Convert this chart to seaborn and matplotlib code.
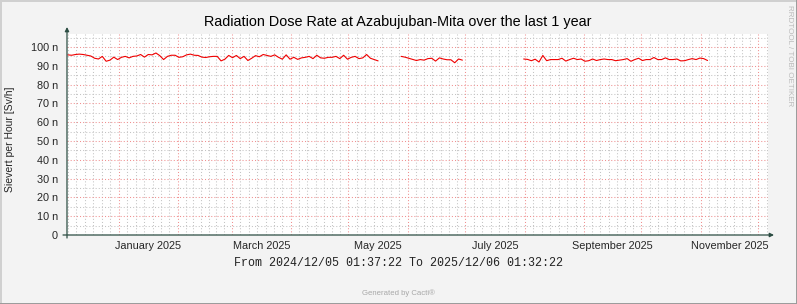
import matplotlib
matplotlib.use("Agg")
import matplotlib.pyplot as plt
from matplotlib.lines import Line2D
import seaborn as sns
import pandas as pd

# ---------------- data ----------------
title = "Radiation Dose Rate at Azabujuban-Mita over the last 1 year"
y_label = "Sievert per Hour [Sv/h]"
range_text = "From 2024/12/05 01:37:22 To 2025/12/06 01:32:22"
credit_text = "Generated by Cacti®"
side_text = "RRDTOOL / TOBI OETIKER"
x_start = "2024-12-05 01:37:22"
x_end = "2025-12-06 01:32:22"

seg_starts = ["2024-12-05", "2025-05-28", "2025-07-31"]
seg_step = "2D"
# values in nSv/h
seg1 = [95.8, 95.6, 96.0, 96.2, 96.0, 95.6, 95.2, 94.0, 93.6, 95.0, 92.4, 93.0, 94.6, 93.3, 94.5,
        95.0, 94.2, 95.0, 95.2, 96.0, 94.6, 96.0, 95.8, 96.8, 95.4, 93.3, 95.0, 95.6, 95.6,
        94.5, 94.8, 95.8, 96.2, 95.6, 95.5, 94.6, 94.4, 94.8, 95.0, 95.0, 92.6, 93.5, 95.5,
        94.3, 95.5, 93.8, 95.0, 92.8, 94.0, 95.4, 94.8, 96.0, 95.5, 95.0, 95.8, 94.5, 93.5,
        95.8, 93.5, 94.5, 93.4, 94.2, 94.5, 95.0, 93.8, 95.6, 94.2, 94.0, 94.5, 94.5, 95.0,
        93.8, 95.6, 93.5, 94.5, 95.0, 93.8, 94.2, 96.0, 94.0, 93.3, 92.6]
seg2 = [95.0, 94.6, 94.0, 93.4, 92.8, 93.3, 93.0, 93.8, 94.0, 92.5, 94.2, 93.6, 93.2, 93.2,
        91.6, 93.6, 93.0]
seg3 = [93.6, 93.4, 92.7, 93.5, 92.0, 95.5, 92.7, 93.3, 93.3, 93.3, 94.0, 92.5, 93.3, 94.0,
        93.3, 93.6, 92.4, 92.7, 93.6, 92.8, 93.3, 93.6, 93.3,
        93.3, 92.7, 93.0, 93.3, 93.8, 92.4, 93.3, 94.0, 92.8, 93.3, 93.3, 94.4, 93.3, 93.3,
        94.2, 93.3, 93.3, 93.6, 92.6, 92.7, 93.3, 93.8, 93.3, 94.1, 93.8, 92.8]

y_ticks = [0, 10, 20, 30, 40, 50, 60, 70, 80, 90, 100]
y_tick_labels = ["0", "10 n", "20 n", "30 n", "40 n", "50 n", "60 n", "70 n", "80 n", "90 n", "100 n"]
y_minor = [5, 15, 25, 35, 45, 55, 65, 75, 85, 95, 105]
y_max = 106.9
month_starts = ["2024-12-01", "2025-01-01", "2025-02-01", "2025-03-01", "2025-04-01", "2025-05-01",
                "2025-06-01", "2025-07-01", "2025-08-01", "2025-09-01", "2025-10-01",
                "2025-11-01", "2025-12-01", "2026-01-01"]
label_months = ["2025-01", "2025-03", "2025-05", "2025-07", "2025-09", "2025-11"]
label_texts = ["January 2025", "March 2025", "May 2025", "July 2025", "September 2025", "November 2025"]

# ---------------- build frame ----------------
frames = []
for i, (s, vals) in enumerate(zip(seg_starts, [seg1, seg2, seg3])):
    t = pd.date_range(s, periods=len(vals), freq=seg_step) + pd.Timedelta(hours=12)
    frames.append(pd.DataFrame({"time": t, "value": vals, "segment": i}))
df = pd.concat(frames, ignore_index=True)

# ---------------- style ----------------
sns.set_style("white")
plt.rcParams["font.family"] = ["Liberation Sans", "DejaVu Sans"]

W, H = 797, 304
fig = plt.figure(figsize=(W / 100, H / 100), dpi=100)
fig.patch.set_facecolor("#F3F3F3")

L, R, T, B = 67, 768, 34, 235
ax = fig.add_axes([L / W, (H - B) / H, (R - L) / W, (B - T) / H])
ax.set_facecolor("white")

t0 = pd.Timestamp(x_start)
t1 = pd.Timestamp(x_end)

# grid
ms = [pd.Timestamp(m) for m in month_starts]
minor_x = []
for a, b in zip(ms[:-1], ms[1:]):
    step = (b - a) / 7
    for k in range(1, 7):
        minor_x.append(a + step * k)
grid_gray = dict(color="#C4C4C4", lw=0.75, ls=(0, (1, 2)), zorder=1)
grid_red = dict(color="#F09090", lw=0.75, ls=(0, (1, 2)), zorder=1.5)
for m in minor_x:
    if t0 < m < t1:
        ax.axvline(m, **grid_gray)
for m in ms:
    if t0 < m < t1:
        ax.axvline(m, **grid_red)
for v in y_minor:
    ax.axhline(v, **grid_gray)
for v in y_ticks[1:]:
    ax.axhline(v, **grid_red)

sns.lineplot(data=df, x="time", y="value", units="segment", estimator=None,
             color="#F00000", lw=0.8, ax=ax, legend=False, zorder=3)

ax.set_xlim(t0, t1)
ax.set_ylim(0, y_max)
for sp in ax.spines.values():
    sp.set_visible(False)
ax.set_xlabel("")
ax.set_ylabel("")

# ticks
label_pos = []
for m in label_months:
    a = pd.Timestamp(m + "-01")
    b = a + pd.offsets.MonthBegin(1)
    label_pos.append(a + (b - a) / 2)
ax.set_xticks(label_pos)
ax.set_xticklabels(label_texts, fontsize=7.8)
ax.tick_params(axis="x", which="major", length=0, pad=4.5)
tick_minor = [m for m in ms + minor_x if t0 < m < t1]
ax.set_xticks(tick_minor, minor=True)
ax.tick_params(axis="x", which="minor", length=2.5, width=0.7, color="#2C4D43", direction="out")
ax.set_yticks(y_ticks)
ax.set_yticklabels(y_tick_labels, fontsize=7.8)
ax.tick_params(axis="y", which="major", length=2.5, width=0.7, color="#2C4D43", pad=4)

# axes with arrows
axis_col = "#2C4D43"
ax.annotate("", xy=(0, 1 + 7 / (B - T)), xytext=(0, -3 / (B - T)), xycoords="axes fraction",
            arrowprops=dict(arrowstyle="-|>", color=axis_col, lw=0.9, mutation_scale=6,
                            shrinkA=0, shrinkB=0), annotation_clip=False)
ax.annotate("", xy=(1 + 6 / (R - L), 0), xytext=(-4 / (R - L), 0), xycoords="axes fraction",
            arrowprops=dict(arrowstyle="-|>", color=axis_col, lw=0.9, mutation_scale=6,
                            shrinkA=0, shrinkB=0), annotation_clip=False)

# texts
fig.text(398 / W, 1 - 22 / H, title, ha="center", va="center", fontsize=10.4, color="black")
fig.text(10 / W, 1 - 139 / H, y_label, ha="center", va="center", rotation=90, fontsize=7.5)
fig.text(398 / W, 1 - 263 / H, range_text, ha="center", va="center", fontsize=8.4,
         family=["Liberation Mono", "DejaVu Sans Mono"], color="#222222")
fig.text(398 / W, 1 - 293 / H, credit_text, ha="center", va="center", fontsize=5.6, color="#A8A8A8")
fig.text(789 / W, 1 - 5 / H, side_text, ha="center", va="top", rotation=270, fontsize=5.8,
         color="#BBBBBB")

# border
def fline(x0, y0, x1, y1, c):
    fig.add_artist(Line2D([x0 / W, x1 / W], [1 - y0 / H, 1 - y1 / H], color=c, lw=1.4))

fline(0, 0.5, W, 0.5, "#D0D0D0")
fline(0.5, 0, 0.5, H, "#D0D0D0")
fline(0, H - 0.5, W, H - 0.5, "#9A9A9A")
fline(W - 0.5, 0, W - 0.5, H, "#9A9A9A")

fig.savefig("out.png", dpi=100, facecolor=fig.get_facecolor())
